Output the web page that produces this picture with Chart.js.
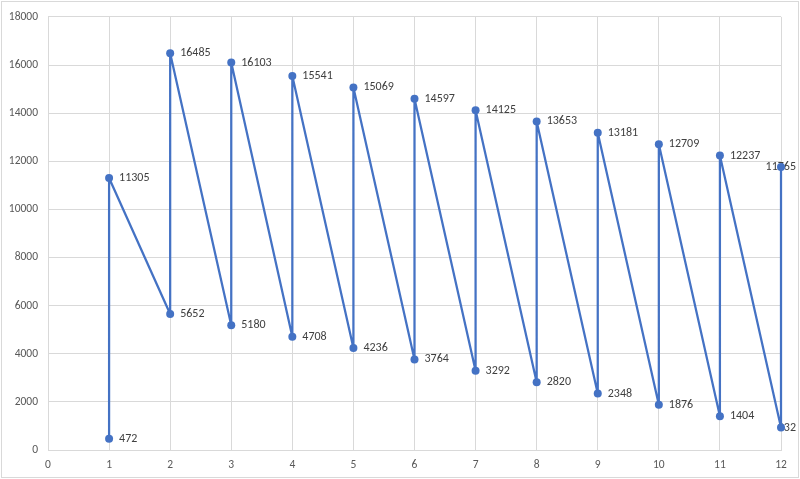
<!DOCTYPE html>
<html>
<head>
<meta charset="utf-8">
<script src="https://cdn.jsdelivr.net/npm/chart.js@4.4.1/dist/chart.umd.min.js"></script>
<style>
    html, body { margin: 0; padding: 0; background: #fff; }
    #wrap { width: 800px; height: 479px; position: relative; }
</style>
</head>
<body>
<div id="wrap"><canvas id="myChart" width="800" height="479"></canvas></div>
<script>

/// DADOS

var categorias = [1, 2, 3, 4, 5, 6, 7, 8, 9, 10, 11, 12];
var valores_baixo = [472, 5652, 5180, 4708, 4236, 3764, 3292, 2820, 2348, 1876, 1404, 932];
var valores_alto = [11305, 16485, 16103, 15541, 15069, 14597, 14125, 13653, 13181, 12709, 12237, 11765];
var ticks_x = [0, 1, 2, 3, 4, 5, 6, 7, 8, 9, 10, 11, 12];
var ticks_y = [0, 2000, 4000, 6000, 8000, 10000, 12000, 14000, 16000, 18000];

// cada categoria: ponto de baixo e depois o de cima
var pontos = [];
categorias.forEach(function (c, i) {
    pontos.push({ x: c, y: valores_baixo[i] });
    pontos.push({ x: c, y: valores_alto[i] });
});

var fonte = "Calibri, Carlito, 'Liberation Sans', sans-serif";

/// RÓTULOS DOS PONTOS + BORDA

const rotulos = {
    id: 'rotulos',
    beforeDraw: function (chart) {
        var c = chart.ctx;
        c.save();
        c.fillStyle = '#ffffff';
        c.fillRect(0, 0, chart.width, chart.height);
        c.strokeStyle = '#d9d9d9';
        c.lineWidth = 1;
        c.strokeRect(1.5, 1.5, chart.width - 3, chart.height - 3);
        c.restore();
    },
    // desenhado antes da linha, para o ponto ficar por cima do texto (como no 12)
    beforeDatasetsDraw: function (chart) {
        var c = chart.ctx;
        var meta = chart.getDatasetMeta(0);
        c.save();
        c.font = '12px ' + fonte;
        c.fillStyle = '#404040';
        c.textBaseline = 'middle';
        meta.data.forEach(function (p, i) {
            var texto = String(pontos[i].y);
            var w = c.measureText(texto).width;
            var tx = Math.min(p.x + 10, chart.width - 4 - w);
            c.fillText(texto, tx, p.y);
        });
        c.restore();
    }
};

const ctx = document.getElementById('myChart').getContext('2d');

const myChart = new Chart(ctx, {
    type: 'scatter',
    data: {
        datasets: [{
            label: '',
            data: pontos,
            showLine: true,
            borderColor: '#4472c4',
            backgroundColor: '#4472c4',
            borderWidth: 2.25,
            borderJoinStyle: 'round',
            borderCapStyle: 'round',
            pointRadius: 4,
            pointBorderWidth: 0,
            tension: 0,
            clip: 6
        }]
    },
    options: {
        responsive: false,
        animation: false,
        layout: {
            padding: { top: 14, right: 19, left: 0, bottom: 0 }
        },
        scales: {
            x: {
                type: 'linear',
                min: 0,
                max: 12,
                afterFit: function (s) { s.height = 29; },
                afterBuildTicks: function (s) { s.ticks = ticks_x.map(function (v) { return { value: v }; }); },
                grid: { color: '#d9d9d9', lineWidth: 1, drawTicks: false },
                border: { color: '#d9d9d9' },
                ticks: { color: '#595959', font: { size: 11.5, family: fonte }, padding: 8,
                    callback: function (v) { return String(v); } }
            },
            y: {
                min: 0,
                max: 18000,
                afterFit: function (s) { s.width = 48; },
                afterBuildTicks: function (s) { s.ticks = ticks_y.map(function (v) { return { value: v }; }); },
                grid: { color: '#d9d9d9', lineWidth: 1, drawTicks: false },
                border: { color: '#d9d9d9' },
                ticks: { color: '#595959', font: { size: 11.5, family: fonte }, padding: 10,
                    callback: function (v) { return String(v); } }
            }
        },
        plugins: {
            legend: { display: false },
            tooltip: { enabled: false }
        }
    },
    plugins: [rotulos]
});
</script>
</body>
</html>
